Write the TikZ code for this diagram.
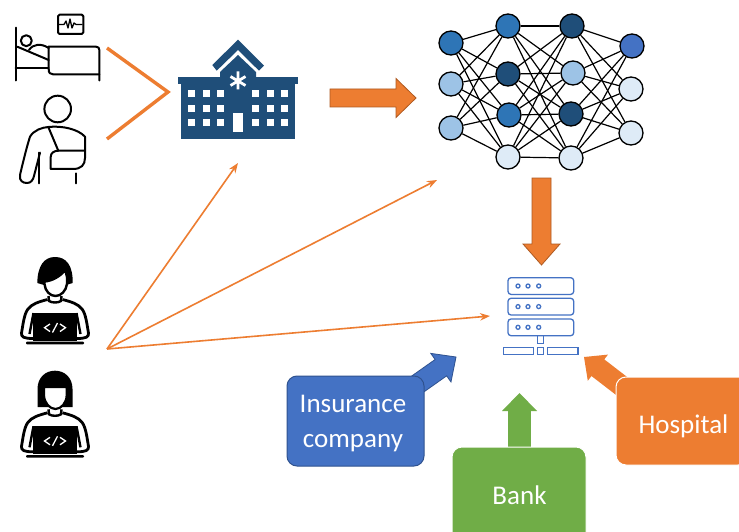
\documentclass[tikz,border=0pt]{standalone}
\usepackage{fontspec}
\setmainfont{Carlito}
\usetikzlibrary{arrows.meta,calc}
\definecolor{orangeA}{HTML}{ED7D31}
\definecolor{orangeB}{HTML}{AE5A21}
\definecolor{blueA}{HTML}{4472C4}
\definecolor{blueB}{HTML}{2F528F}
\definecolor{greenA}{HTML}{70AD47}
\definecolor{navy}{HTML}{1F4E79}
\definecolor{midblue}{HTML}{2E75B6}
\definecolor{lightblue}{HTML}{9DC3E6}
\definecolor{paleblue}{HTML}{DEEBF7}
\tikzset{
  neuron/.style={circle,draw=black,line width=1.3pt,minimum size=24pt,inner sep=0pt},
  synapse/.style={black,line width=1.2pt},
  thinarrow/.style={orangeA,line width=1.6pt,-{Stealth[length=10pt,width=7.5pt]}},
  chevron/.style={orangeA,line width=3.4pt,line join=miter},
  icon/.style={black,line width=2pt,line cap=round,line join=round},
  srv/.style={blueA,line width=1.3pt},
  party/.style={rounded corners=10pt,minimum height=#1,inner sep=0pt},
  partytext/.style={inner sep=0pt,align=center,text=white,font=\fontsize{27}{35}\selectfont},
}
% block arrow between two named points: from, to, half shaft, half head, head length, style
\newcommand{\blockarrow}[6]{%
  \path[#6] let \p1=($(#2)-(#1)$), \n1={atan2(\y1,\x1)}, \n2={veclen(\x1,\y1)} in
    [shift={(#1)},rotate=\n1]
    (0pt,-#3pt) -- ({\n2-#5pt},-#3pt) -- ({\n2-#5pt},-#4pt) -- (\n2,0pt)
    -- ({\n2-#5pt},#4pt) -- ({\n2-#5pt},#3pt) -- (0pt,#3pt) -- cycle;}
\newcommand{\coderbody}{%
  \fill[black] (33.3,312.7) rectangle (77,340.7);
  \fill[black,rounded corners=1pt] (26,341.7) rectangle (84,344.4);
  \draw[white,line width=1.3pt,line join=miter] (50,324) -- (44.5,327.7) -- (50,331.5);
  \draw[white,line width=1.3pt] (57.5,323) -- (52.5,332.5);
  \draw[white,line width=1.3pt,line join=miter] (60,324) -- (65.5,327.7) -- (60,331.5);
  \draw[black,line width=2.8pt,line join=round]
    (47.5,299.5) .. controls (38,302) and (32,304) .. (28,309)
    .. controls (24,314) and (23,325) .. (21.5,333)
    .. controls (21,337) and (24,338.5) .. (33,338.5);
  \draw[black,line width=2.8pt,line join=round]
    (62.5,299.5) .. controls (72,302) and (78,304) .. (82,309)
    .. controls (86,314) and (87,325) .. (88.5,333)
    .. controls (89,337) and (86,338.5) .. (77,338.5);
  \draw[black,line width=2.4pt] (33.5,313) -- (29.5,334);
  \draw[black,line width=2.4pt] (76.5,313) -- (80.5,334);
  \draw[black,line width=2.4pt] (48.5,296) -- (49,301) .. controls (52,303) and (58,303) .. (61,301) -- (61.5,296);
}
\begin{document}
\begin{tikzpicture}[x=1pt,y=-1pt]
\useasboundingbox (0,0) rectangle (739,532);
\clip (0,0) rectangle (739,532);
\fill[white] (0,0) rectangle (739,532);

% --- patient in bed
\begin{scope}[icon]
  \draw (15.7,27.7) -- (15.7,80.5);
  \draw (26.3,40.7) circle (5.5pt);
  \draw (15.7,68.3) -- (48.7,68.3);
  \draw (17.3,46.7) -- (48.7,60);
  \draw (29,50) .. controls (33,44) and (41,43) .. (48.7,48);
  \draw (48.7,46.7) -- (96,46.7) .. controls (98.5,46.7) and (99.3,48) .. (99.3,50) -- (99.3,80.5);
  \draw (48.7,46.7) -- (48.7,69) .. controls (48.7,73) and (50,74.3) .. (53,74.3) -- (99.3,74.3);
  \draw[rounded corners=1.5pt] (58,14.7) rectangle (83.3,34);
  \draw[line width=1.3pt] (59,24.5) -- (64,24.5) -- (66,21) -- (68,28) -- (70,19) -- (72,28) -- (74,23) -- (76,24.5) -- (82,24.5);
\end{scope}

% --- patient with sling
\begin{scope}[icon]
  \draw (57.7,109) circle (13.3pt);
  \draw (48.3,127) .. controls (42,127.5) and (34,130) .. (30,136.7)
    .. controls (27,146) and (23,162) .. (20,175)
    .. controls (19,181) and (23,183) .. (27,183)
    .. controls (31,183) and (33,180) .. (34,176) -- (40,152.7);
  \draw (39,152.7) -- (39,183.3);
  \draw (76,173.3) -- (76,183.3);
  \draw (48.3,127) .. controls (62,125.5) and (78,129) .. (85,136.7) -- (85,158)
    .. controls (85,165) and (81,169) .. (73,169) -- (50.7,169) -- (50.7,157)
    .. controls (50.7,153) and (54,150.7) .. (58.3,150.7) -- (85,150.7);
  \draw (48.3,127) -- (58.3,150.7);
\end{scope}

% --- hospital building
\fill[navy] (212.3,65) -- (238,39.7) -- (264,65.7) -- (259,70.7) -- (238,50) -- (216.7,70.7) -- cycle;
\fill[navy] (220,78) -- (220,72) -- (238,55) -- (256,72) -- (256,78) -- cycle;
\fill[navy] (178,77) rectangle (298,84);
\fill[navy] (181,83) rectangle (295,139);
\draw[white,line width=2.8pt] (238,71.5) -- (238,89.5) (230.5,76.5) -- (245.5,85.5) (230.5,85.5) -- (245.5,76.5);
\foreach \wx in {191.7,206.3,220.7,255.3,270,284.3}
  \foreach \wy in {93.7,108.3,122.7}
    \fill[white] (\wx-3.5,\wy-3.5) rectangle (\wx+3.5,\wy+3.5);
\fill[white] (233.3,113.3) rectangle (243,131.7);

% --- chevron towards hospital
\coordinate (bedend) at (107,48);
\coordinate (slingend) at (107,139);
\coordinate (apex) at (168,92);
\draw[chevron] (bedend) -- (apex) -- (slingend);

% --- neural network
\foreach \nm/\px/\py/\col in {
  a1/451/43/midblue, a2/451/84/lightblue, a3/451/128/lightblue,
  b1/508/26/midblue, b2/508/74/navy, b3/509/115/midblue, b4/508/157/paleblue,
  c1/572/26/navy, c2/573/73/lightblue, c3/571/114/navy, c4/571/158/paleblue,
  d1/632/46/blueA, d2/631/89/paleblue, d3/631/133/paleblue}
  \node[neuron,fill=\col] (\nm) at (\px,\py) {};
\foreach \s in {a1,a2,a3} \foreach \t in {b1,b2,b3,b4} \draw[synapse] (\s) -- (\t);
\foreach \s in {b1,b2,b3,b4} \foreach \t in {c1,c2,c3,c4} \draw[synapse] (\s) -- (\t);
\foreach \s in {c1,c2,c3,c4} \foreach \t in {d1,d2,d3} \draw[synapse] (\s) -- (\t);

% --- coders
\begin{scope}
  \coderbody
  \fill[black] (37.3,283) .. controls (37.5,266) and (44,257) .. (55,257)
    .. controls (66,257) and (73,265) .. (72.7,283) -- (66,285) -- (44,285) -- cycle;
  \draw[black,line width=2.4pt,fill=white] (44.5,281.5) .. controls (52,281) and (61,276) .. (65,270)
    .. controls (67,275) and (67.5,279) .. (67,284)
    .. controls (66,291) and (61,296) .. (55.5,296)
    .. controls (50,296) and (45,291) .. (44.5,284) -- cycle;
\end{scope}
\begin{scope}[shift={(0,113.3)}]
  \coderbody
\end{scope}
\fill[black] (37.5,407) -- (37.5,389) .. controls (37.5,378) and (45,370.7) .. (55,370.7)
  .. controls (65,370.7) and (72.5,378) .. (72.5,389) -- (72.5,407) -- cycle;
\draw[black,line width=2.2pt,fill=white] (44,387) -- (66.7,387) -- (66.7,395)
  .. controls (66.7,403) and (61,409) .. (55.4,409)
  .. controls (50,409) and (44,403) .. (44,395) -- cycle;

% --- server icon
\foreach \sy in {277.7,298.3,319}{
  \draw[srv,rounded corners=3pt] (508,\sy) rectangle (573.7,\sy+16.7);
  \foreach \dx in {518,528,538.7} \draw[srv] (\dx,\sy+8.3) circle (2pt);
}
\draw[srv] (537.7,335.7) rectangle (543.3,343.7);
\draw[srv] (503.7,347.7) rectangle (533.7,354.3);
\draw[srv] (537.7,347.7) rectangle (543.7,354.3);
\draw[srv] (547.7,347.7) rectangle (578,354.3);
\coordinate (serverL) at (490,316);

% --- thin arrows from coders
\coordinate (coders) at (107,349);
\coordinate (hospT) at (238,163);
\coordinate (netT) at (437,180);
\draw[thinarrow] (coders) -- (hospT);
\draw[thinarrow] (coders) -- (netT);
\draw[thinarrow] (coders) -- (serverL);

% --- big orange arrows
\coordinate (bigAs) at (330,98);
\coordinate (bigAe) at (416,98);
\coordinate (bigBs) at (541.5,178);
\coordinate (bigBe) at (541.5,265);
\blockarrow{bigAs}{bigAe}{9}{19.5}{20}{fill=orangeA,draw=orangeB,line width=.8pt}
\blockarrow{bigBs}{bigBe}{9.5}{18.5}{21}{fill=orangeA,draw=orangeB,line width=.8pt}

% --- parties and their arrows
\coordinate (insTip) at (456,357);
\coordinate (insTail) at (405,393);
\coordinate (bankTip) at (519.5,393);
\coordinate (bankTail) at (519.5,450);
\coordinate (hospTip) at (584,357);
\coordinate (hospTail) at (632,394);
\blockarrow{insTail}{insTip}{10}{17.5}{18.5}{fill=blueA,draw=blueB,line width=.8pt}
\blockarrow{bankTail}{bankTip}{11.3}{17.5}{18}{fill=greenA}
\blockarrow{hospTail}{hospTip}{10.5}{16.5}{17.5}{fill=orangeA}
\node[party=90pt,minimum width=137pt,fill=blueA,draw=blueB,line width=1pt] (ins) at (355.5,421) {};
\node[party=98pt,minimum width=134pt,fill=greenA,draw=white,line width=1pt] (bank) at (519,496) {};
\node[party=88pt,minimum width=132pt,fill=orangeA,draw=white,line width=1pt] (hosp) at (682,421) {};
\node[partytext] (insText) at (353,424) {Insurance\\company};
\node[partytext] (bankText) at (519.5,495) {Bank};
\node[partytext] (hospText) at (683.5,426) {Hospital};
\end{tikzpicture}
\end{document}
